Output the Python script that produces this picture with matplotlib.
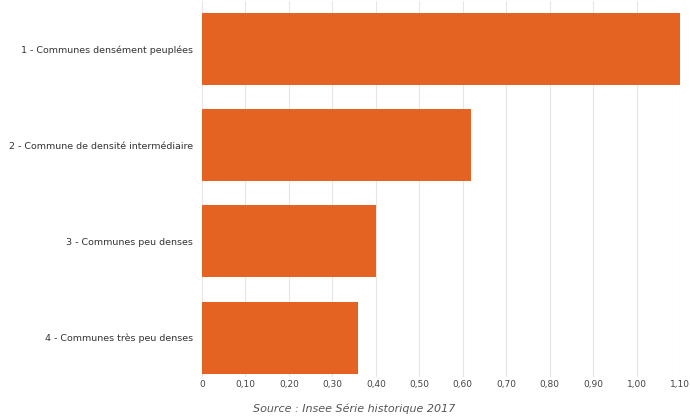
import matplotlib.pyplot as plt

categories = ["1 - Communes densément peuplées",
              "2 - Commune de densité intermédiaire",
              "3 - Communes peu denses",
              "4 - Communes très peu denses"]
values = [1.10, 0.62, 0.40, 0.36]
ticks = [0, 0.1, 0.2, 0.3, 0.4, 0.5, 0.6, 0.7, 0.8, 0.9, 1.0, 1.1]
tick_labels = ["0", "0,10", "0,20", "0,30", "0,40", "0,50", "0,60", "0,70",
               "0,80", "0,90", "1,00", "1,10"]

fig = plt.figure(figsize=(6.9, 4.18), dpi=100)
ax = fig.add_axes([202/690, 1 - 377/418, 478/690, 376/418])

pos = range(len(categories))
ax.barh(pos, values, height=0.75, color="#E46322", zorder=2)
ax.set_ylim(3.41, -0.5)
ax.set_xlim(0, 1.1)
ax.set_yticks(list(pos))
ax.set_yticklabels(categories, fontsize=6.8, color="#333333")
ax.set_xticks(ticks)
ax.set_xticklabels(tick_labels, fontsize=6.5, color="#444444")
ax.tick_params(length=0)
ax.tick_params(axis="x", pad=2)
ax.tick_params(axis="y", pad=6.5)
ax.grid(axis="x", color="#e6e6e6", linewidth=0.8, zorder=0)
for s in ax.spines.values():
    s.set_visible(False)

fig.text(354/690, 1 - 409/418, "Source : Insee Série historique 2017",
         fontsize=8, style="italic", color="#555555", ha="center", va="center")

fig.savefig("out.png", dpi=100)
